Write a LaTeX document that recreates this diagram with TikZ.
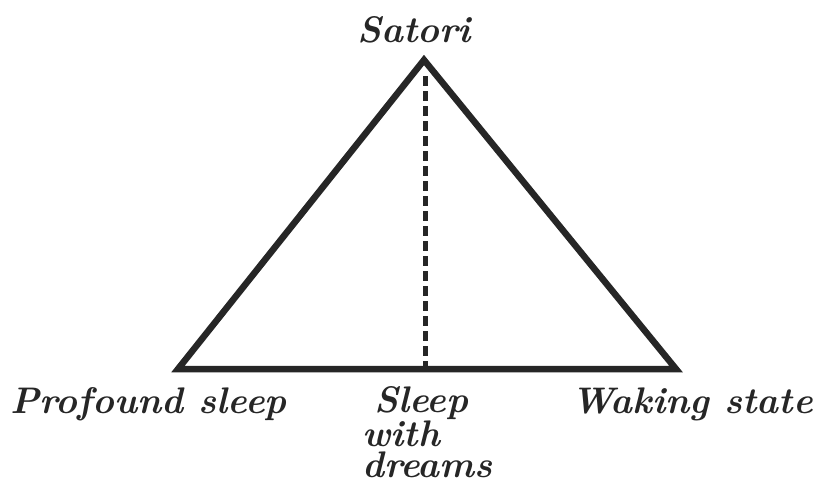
\documentclass[tikz,border=0pt]{standalone}
\begin{document}
\begin{tikzpicture}[x=1pt,y=-1pt,
  edge/.style={line width=6.5pt,line join=miter,draw=black!85},
  dashline/.style={line width=5pt,draw=black!85,dash pattern=on 10pt off 5pt},
  lbl/.style={font=\fontsize{37}{31}\selectfont\bfseries\itshape,inner sep=0pt,text=black!85}]
\useasboundingbox (0,0) rectangle (814,483);
\coordinate (apex) at (424,60);
\coordinate (bl) at (178,369);
\coordinate (br) at (676,369);
\coordinate (dtop) at (425,76);
\coordinate (dbot) at (425,366);
\draw[edge] (apex) -- (br) -- (bl) -- cycle;
\draw[dashline] (dtop) -- (dbot);
\node[lbl,anchor=base] (satori) at (414,42) {Satori};
\node[lbl,anchor=base west] (profound) at (10,413) {Profound sleep};
\node[lbl,anchor=base west] (waking) at (571,413) {Waking state};
\node[lbl,anchor=north west,align=left] (dreams) at (362,386) {\hspace*{12pt}Sleep\\with\\dreams};
\end{tikzpicture}
\end{document}
